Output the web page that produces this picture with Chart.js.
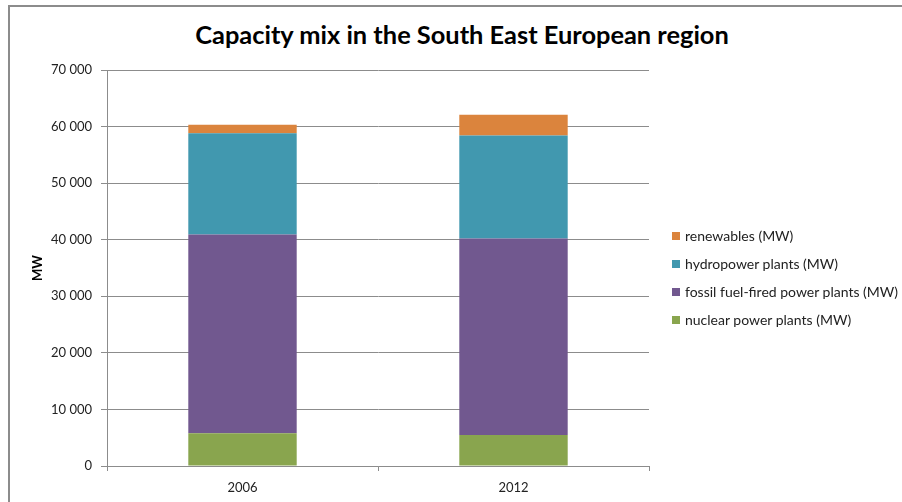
<!DOCTYPE html>
<html>
<head>
<meta charset="utf-8">
<script src="https://cdn.jsdelivr.net/npm/chart.js@4"></script>
<style>
  body { margin: 0; background: #fff; overflow: hidden; }
  #wrap { position: relative; width: 902px; height: 502px; }
  #frameTop { position: absolute; left: 8px; top: 5px; width: 894px; height: 2px; background: #8c8c8c; }
  #frameLeft { position: absolute; left: 8px; top: 5px; width: 2px; height: 497px; background: #8c8c8c; }
  #title { position: absolute; left: 0; width: 924px; top: 19px; text-align: center;
           font: bold 25.4px Lato, sans-serif; color: #000; }
  #legend { position: absolute; left: 672px; top: 227px; font: 14px Lato, sans-serif; color: #222; }
  #legend div { height: 28px; line-height: 18px; white-space: nowrap; }
  #legend span.box { display: inline-block; width: 8px; height: 8px; margin-right: 5px; vertical-align: 1px; }
  canvas { position: absolute; left: 0; top: 0; }
</style>
</head>
<body>
<div id="wrap">
  <div id="frameTop"></div>
  <div id="frameLeft"></div>
  <div id="title">Capacity mix in the South East European region</div>
  <canvas id="chartCapacidade" width="902" height="502"></canvas>
  <div id="legend"></div>
</div>
<script>
const anos = ['2006', '2012'];
const nuclear = [5800, 5500];
const fossil = [35100, 34700];
const hydro = [17900, 18200];
const renewables = [1500, 3700];

const fonte = { family: 'Lato, sans-serif', size: 13 };

function separarMilhares(v) {
    return String(v).replace(/\B(?=(\d{3})+(?!\d))/g, ' ');
}

const datasets = [
    { label: 'nuclear power plants (MW)', data: nuclear, backgroundColor: '#89A54E' },
    { label: 'fossil fuel-fired power plants (MW)', data: fossil, backgroundColor: '#71588F' },
    { label: 'hydropower plants (MW)', data: hydro, backgroundColor: '#4198AF' },
    { label: 'renewables (MW)', data: renewables, backgroundColor: '#DB843D' }
];

const chart = new Chart(document.getElementById('chartCapacidade'), {
    type: 'bar',
    data: { labels: anos, datasets: datasets },
    options: {
        responsive: false,
        animation: false,
        layout: { padding: { left: 9, top: 70, right: 253, bottom: 6 } },
        datasets: { bar: { barPercentage: 0.4, categoryPercentage: 1 } },
        plugins: {
            legend: { display: false },
            title: { display: false },
            tooltip: { enabled: false }
        },
        scales: {
            x: {
                stacked: true,
                afterFit: s => { s.height = 30; },
                grid: { display: true, drawOnChartArea: false, drawTicks: true, tickLength: 5, offset: true, color: '#8c8c8c' },
                border: { display: true, color: '#8c8c8c', width: 1 },
                ticks: { color: '#222', font: fonte, padding: 9 }
            },
            y: {
                stacked: true,
                min: 0,
                max: 70000,
                afterFit: s => { s.width = 98; },
                ticks: { stepSize: 10000, color: '#222', font: fonte, padding: 9, callback: v => separarMilhares(v) },
                grid: { color: '#8c8c8c', lineWidth: 1, tickLength: 6 },
                border: { display: true, color: '#8c8c8c', width: 1 },
                title: { display: true, text: 'MW', color: '#000', font: { family: 'Lato, sans-serif', size: 13, weight: 'bold' }, padding: { top: 21 } }
            }
        }
    }
});

// legenda em HTML, na ordem inversa como no original
const legenda = document.getElementById('legend');
datasets.slice().reverse().forEach(ds => {
    const linha = document.createElement('div');
    linha.innerHTML = `<span class="box" style="background:${ds.backgroundColor}"></span>${ds.label}`;
    legenda.appendChild(linha);
});
</script>
</body>
</html>
